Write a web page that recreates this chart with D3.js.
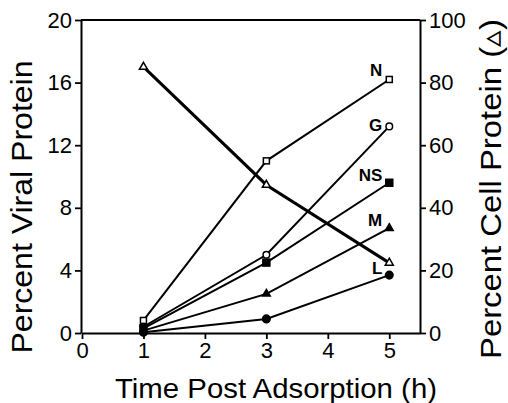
<!DOCTYPE html>
<html>
<head>
<meta charset="utf-8">
<script src="https://cdn.jsdelivr.net/npm/d3@7"></script>
<style>
  body { margin: 0; background: #fff; }
  text { font-family: "Liberation Sans", Arial, sans-serif; fill: #000; }
</style>
</head>
<body>
<svg width="508" height="403"></svg>
<script>
// data
const hours = [1, 3, 5];
const seriesNames = ["N", "G", "NS", "M", "L"];
const viralN  = [0.8, 11.0, 16.2];
const viralG  = [0.4, 5.0, 13.2];
const viralNS = [0.3, 4.5, 9.6];
const viralM  = [0.15, 2.5, 6.7];
const viralL  = [0.05, 0.9, 3.7];
const cellProtein = [85, 47.3, 22.4];   // right axis, open triangles
const xTicks = [0, 1, 2, 3, 4, 5];
const leftTicks = [0, 4, 8, 12, 16, 20];
const rightTicks = [0, 20, 40, 60, 80, 100];

const viral = [viralN, viralG, viralNS, viralM, viralL];
const markers = ["squareOpen", "circleOpen", "squareFilled", "triangleFilled", "circleFilled"];

var svg = d3.select("svg");
var plotLeft = 81, plotRight = 420, plotTop = 20, plotBottom = 333;

var x = d3.scaleLinear().domain([0, 5.5]).range([plotLeft + 1, plotRight]);
var yL = d3.scaleLinear().domain([0, 20]).range([plotBottom, plotTop]);
var yR = d3.scaleLinear().domain([0, 100]).range([plotBottom, plotTop]);

// frame top line
svg.append("line")
    .attr("x1", plotLeft).attr("x2", plotRight)
    .attr("y1", plotTop).attr("y2", plotTop)
    .style("stroke", "#000").style("stroke-width", 2);

function styleAxis(g) {
    g.select(".domain").style("stroke-width", 2);
    g.selectAll(".tick line").style("stroke-width", 1.8);
    g.selectAll(".tick text")
        .style("font-family", "Liberation Sans, Arial, sans-serif")
        .style("font-size", "22px");
}

svg.append("g")
    .attr("transform", "translate(0," + plotBottom + ")")
    .call(d3.axisBottom(x).tickValues(xTicks).tickFormat(d3.format("d")).tickSize(6).tickPadding(3).tickSizeOuter(0))
    .call(styleAxis);

svg.append("g")
    .attr("transform", "translate(" + plotLeft + ",0)")
    .call(d3.axisLeft(yL).tickValues(leftTicks).tickFormat(d3.format("d")).tickSize(6).tickPadding(3).tickSizeOuter(0))
    .call(styleAxis);

svg.append("g")
    .attr("transform", "translate(" + plotRight + ",0)")
    .call(d3.axisRight(yR).tickValues(rightTicks).tickFormat(d3.format("d")).tickSize(6).tickPadding(3).tickSizeOuter(0))
    .call(styleAxis);

// lines
var lineL = d3.line().x((d, i) => x(hours[i])).y(d => yL(d));
var lineR = d3.line().x((d, i) => x(hours[i])).y(d => yR(d));

viral.forEach(function(vals) {
    svg.append("path")
        .datum(vals)
        .attr("d", lineL)
        .style("fill", "none")
        .style("stroke", "#000")
        .style("stroke-width", 2);
});

svg.append("path")
    .datum(cellProtein)
    .attr("d", lineR)
    .style("fill", "none")
    .style("stroke", "#000")
    .style("stroke-width", 3);

// markers
function drawMarker(kind, cx, cy) {
    var open = kind.indexOf("Open") >= 0;
    var fill = open ? "#fff" : "#000";
    var sel;
    if (kind.startsWith("square")) {
        var s = open ? 6 : 7;
        sel = svg.append("rect").attr("x", cx - s / 2).attr("y", cy - s / 2).attr("width", s).attr("height", s);
    } else if (kind.startsWith("circle")) {
        sel = svg.append("circle").attr("cx", cx).attr("cy", cy).attr("r", open ? 3.3 : 3.8);
    } else {
        var sym = d3.symbol().type(d3.symbolTriangle).size(open ? 28 : 26);
        sel = svg.append("path").attr("d", sym()).attr("transform", "translate(" + cx + "," + cy + ")");
    }
    sel.style("fill", fill).style("stroke", "#000").style("stroke-width", 1.5);
}

viral.forEach(function(vals, k) {
    vals.forEach(function(v, i) { drawMarker(markers[k], x(hours[i]), yL(v)); });
});
cellProtein.forEach(function(v, i) { drawMarker("triangleOpen", x(hours[i]), yR(v)); });

// series labels next to the last point
var labelDy = [-3, 5, -2, -2, -1];
seriesNames.forEach(function(name, k) {
    var last = viral[k][viral[k].length - 1];
    svg.append("text")
        .attr("x", x(5) - 7)
        .attr("y", yL(last) + labelDy[k])
        .attr("text-anchor", "end")
        .style("font-size", "17px")
        .style("font-weight", "bold")
        .text(name);
});

// axis titles
svg.append("text")
    .attr("transform", "translate(32,207)rotate(-90)")
    .attr("text-anchor", "middle")
    .attr("textLength", 293)
    .attr("lengthAdjust", "spacingAndGlyphs")
    .style("font-size", "30px")
    .text("Percent Viral Protein");

svg.append("text")
    .attr("transform", "translate(501,189)rotate(-90)")
    .attr("text-anchor", "middle")
    .attr("textLength", 340)
    .attr("lengthAdjust", "spacingAndGlyphs")
    .style("font-size", "29px")
    .text("Percent Cell Protein (\u25B5)");

svg.append("text")
    .attr("x", 276)
    .attr("y", 398)
    .attr("text-anchor", "middle")
    .attr("textLength", 322)
    .attr("lengthAdjust", "spacingAndGlyphs")
    .style("font-size", "28px")
    .text("Time Post Adsorption (h)");
</script>
</body>
</html>
